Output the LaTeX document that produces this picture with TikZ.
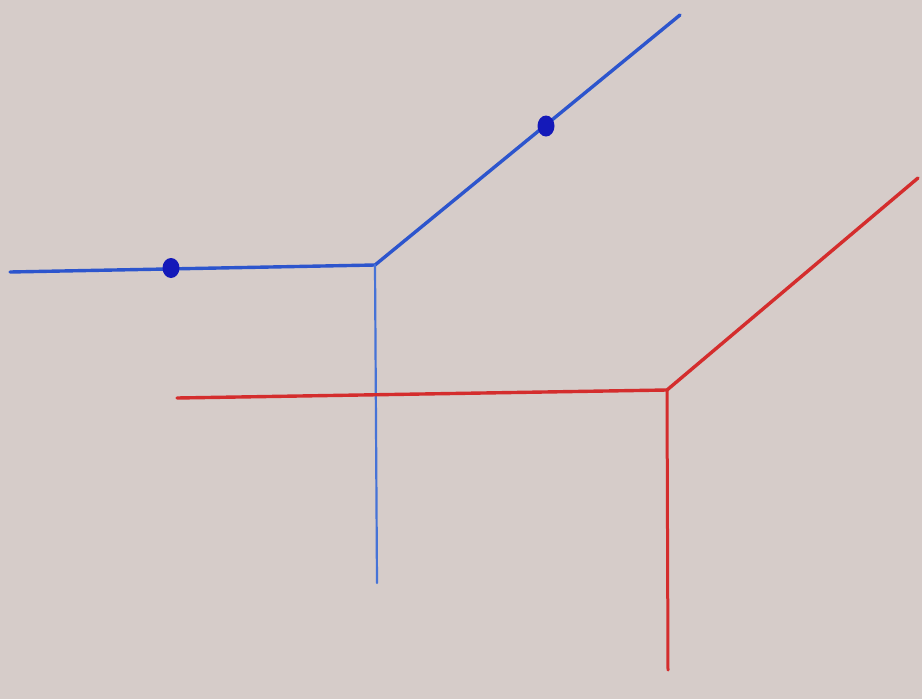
\documentclass[tikz,border=0pt]{standalone}
\definecolor{paper}{RGB}{214,204,201}
\definecolor{bluepen}{RGB}{45,85,205}
\definecolor{bluethin}{RGB}{70,115,215}
\definecolor{dotblue}{RGB}{20,25,185}
\definecolor{redpen}{RGB}{212,45,45}
\begin{document}
\begin{tikzpicture}[x=1pt,y=-1pt,
  bline/.style={draw=bluepen,line width=3.4pt,line cap=round,line join=round},
  bthin/.style={draw=bluethin,line width=2.2pt,line cap=round},
  rline/.style={draw=redpen,line width=3.4pt,line cap=round,line join=round},
  rthin/.style={draw=redpen,line width=3pt,line cap=round},
  pdot/.style={fill=dotblue}]
\fill[paper] (0,0) rectangle (922,699);
\useasboundingbox (0,0) rectangle (922,699);
% blue figure
\coordinate (bl) at (10,272);
\coordinate (bj) at (375,265);
\coordinate (bu) at (680,15);
\coordinate (bd) at (377,583);
\draw[bline] (bl) -- (bj) -- (bu);
\draw[bthin] (bj) -- (bd);
\fill[pdot] (171,268) ellipse (8.5pt and 10pt);
\fill[pdot] (546,126) ellipse (8.5pt and 10.5pt);
% red figure
\coordinate (rl) at (177,398);
\coordinate (rj) at (667,390);
\coordinate (ru) at (918,178);
\coordinate (rd) at (668,670);
\draw[rline] (rl) -- (rj) -- (ru);
\draw[rthin] (rj) -- (rd);
\end{tikzpicture}
\end{document}
